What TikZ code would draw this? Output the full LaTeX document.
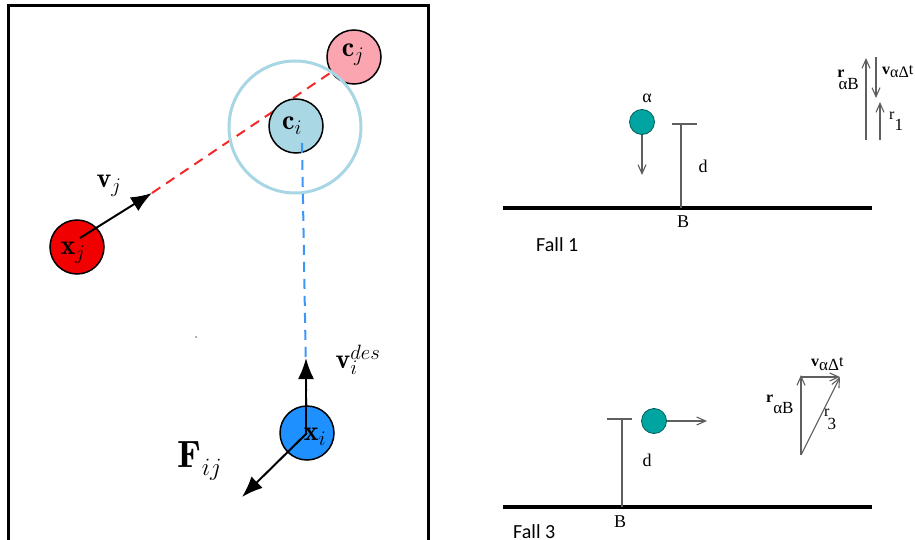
\documentclass[tikz,border=0pt]{standalone}
\usepackage{fontspec}
\newfontfamily\tnrfont{Liberation Serif}
\newfontfamily\calfont{Carlito}
\usetikzlibrary{arrows.meta}
\definecolor{ringblue}{RGB}{168,214,228}
\definecolor{cifill}{RGB}{170,215,228}
\definecolor{cjfill}{RGB}{250,165,175}
\definecolor{xjfill}{RGB}{240,0,0}
\definecolor{xifill}{RGB}{30,144,255}
\definecolor{dashblue}{RGB}{60,150,250}
\definecolor{dashred}{RGB}{245,40,40}
\definecolor{tealball}{RGB}{0,165,162}
\definecolor{greyline}{RGB}{95,95,95}
\newcommand\subfont{\fontsize{17}{19}\selectfont}
\tikzset{
  agent/.style={circle, draw=black, line width=1.5pt, minimum size=54pt, inner sep=0pt},
  mlab/.style={inner sep=0pt, font=\fontsize{28}{32}\selectfont},
  bigarrow/.style={-{Latex[length=21pt,width=16pt]}, line width=2pt},
  dashline/.style={line width=2pt, dash pattern=on 10pt off 7pt},
  ball/.style={circle, draw=tealball!55!black, fill=tealball, line width=0.8pt, minimum size=25pt, inner sep=0pt},
  thinarrow/.style={-{Straight Barb[length=9pt,width=8pt]}, draw=greyline, line width=1.1pt},
  thinline/.style={draw=greyline, line width=1.1pt},
  ground/.style={line width=4pt},
  tlab/.style={inner sep=0pt, font=\tnrfont\fontsize{18}{20}\selectfont},
  slab/.style={inner sep=0pt, font=\tnrfont\fontsize{16}{18}\selectfont},
  falllab/.style={inner sep=0pt, font=\calfont\fontsize{20}{22}\selectfont, anchor=west}
}
\begin{document}
\begin{tikzpicture}[x=1pt,y=-1pt]
\useasboundingbox (0,0) rectangle (915,540);
\begin{scope}
\clip (0,0) rectangle (915,540);
% ---------- left panel ----------
\draw[line width=3pt] (8,542) -- (8,6) -- (428,6) -- (428,542);
\coordinate (cjc) at (354,57);
\coordinate (cic) at (296,126);
\coordinate (xjc) at (77,247);
\coordinate (xic) at (307,433);
\coordinate (vjstart) at (80,238);
\coordinate (vjtip) at (152,193);
\coordinate (bluestart) at (302,143);
\coordinate (vitip) at (306,358);
\coordinate (fijtip) at (242,497);
\draw[dashline, dashred] (vjtip) -- (cjc);
\node[agent, fill=cjfill] (cj) at (cjc) {};
\node[circle, draw=ringblue, line width=3pt, minimum size=132pt, inner sep=0pt] (ring) at (295,127) {};
\node[agent, fill=cifill] (ci) at (cic) {};
\draw[dashline, dashblue] (bluestart) -- (xic);
\node[agent, fill=xjfill] (xj) at (xjc) {};
\node[agent, fill=xifill] (xi) at (xic) {};
\draw[bigarrow] (vjstart) -- (vjtip);
\draw[bigarrow] (306,433) -- (vitip);
\draw[bigarrow] (xic) -- (fijtip);
\node[mlab] (lcj) at (353,55) {$\mathbf{c}_j$};
\node[mlab] (lci) at (292,126) {$\mathbf{c}_i$};
\node[mlab] (lxj) at (73,253) {$\mathbf{x}_j$};
\node[mlab] (lxi) at (315,437) {$\mathbf{x}_i$};
\node[mlab] (lvj) at (109,186) {$\mathbf{v}_j$};
\node[mlab] (lvi) at (358,360) {$\mathbf{v}_i^{des}$};
\node[inner sep=0pt, font=\fontsize{38}{42}\selectfont] (lfij) at (200,461) {$\mathbf{F}_{ij}$};
\fill[gray] (196,337) circle (1pt);
% ---------- right panel: Fall 1 ----------
\coordinate (g1a) at (503,208);
\coordinate (g1b) at (872,208);
\draw[ground] (g1a) -- (g1b);
\node[tlab] (b1) at (683,222) {B};
\node[falllab] (fall1) at (536,245) {Fall 1};
\node[ball] (a1) at (642,122) {};
\node[tlab] (alpha1) at (647,98) {α};
\coordinate (a1end) at (642,175);
\draw[thinarrow] (a1) -- (a1end);
\coordinate (d1top) at (681,124);
\coordinate (d1bot) at (681,208);
\coordinate (d1l) at (672,124);
\coordinate (d1r) at (697,124);
\draw[thinline] (d1top) -- (d1bot);
\draw[thinline] (d1l) -- (d1r);
\node[tlab] (dl1) at (703,166) {d};
% vector diagram, Fall 1
\coordinate (r1a) at (866,140);
\coordinate (r1b) at (866,58);
\coordinate (v1a) at (876,57);
\coordinate (v1b) at (876,98);
\coordinate (q1a) at (880,140);
\coordinate (q1b) at (880,102);
\draw[thinarrow] (r1a) -- (r1b);
\draw[thinarrow] (v1a) -- (v1b);
\draw[thinarrow] (q1a) -- (q1b);
\node[slab, anchor=east] (rab1) at (859,80) {\textbf{r}\kern-6pt\raisebox{-12pt}{\subfont αB}};
\node[slab, anchor=west] (vad1) at (882,72) {\textbf{v}\raisebox{-3pt}{αΔ}t};
\node[slab, anchor=west] (rr1) at (889,121) {r\raisebox{-11pt}{\subfont 1}};
% ---------- right panel: Fall 3 ----------
\coordinate (g3a) at (503,507);
\coordinate (g3b) at (872,507);
\draw[ground] (g3a) -- (g3b);
\node[tlab] (b3) at (620,522) {B};
\node[falllab] (fall3) at (513,532) {Fall 3};
\node[ball] (a3) at (654,421) {};
\coordinate (a3end) at (707,421);
\draw[thinarrow] (a3) -- (a3end);
\coordinate (d3top) at (622,419);
\coordinate (d3bot) at (622,507);
\coordinate (d3l) at (607,419);
\coordinate (d3r) at (632,419);
\draw[thinline] (d3top) -- (d3bot);
\draw[thinline] (d3l) -- (d3r);
\node[tlab] (dl3) at (647,460) {d};
\coordinate (t3o) at (801,455);
\coordinate (t3u) at (801,375);
\coordinate (t3c) at (801,377);
\coordinate (t3r) at (840,377);
\draw[thinarrow] (t3o) -- (t3u);
\draw[thinarrow] (t3c) -- (t3r);
\draw[thinarrow] (t3o) -- (t3r);
\node[slab, anchor=west] (vad3) at (811,364) {\textbf{v}\raisebox{-4pt}{\subfont αΔ}t};
\node[slab, anchor=west] (rab3) at (766,404) {\textbf{r}\raisebox{-11pt}{\subfont αB}};
\node[slab, anchor=west] (rr3) at (824,419) {r\kern-2pt\raisebox{-13pt}{\subfont 3}};
\end{scope}
\end{tikzpicture}
\end{document}
